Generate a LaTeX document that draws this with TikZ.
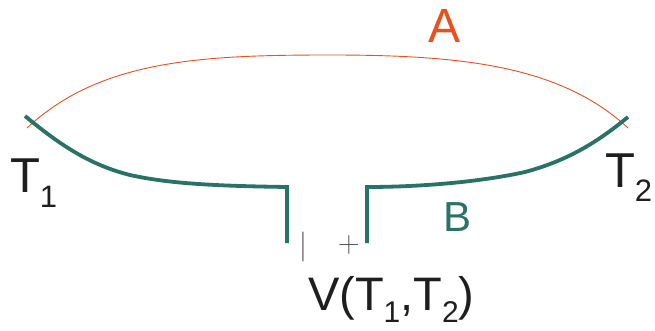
\documentclass[tikz,border=0pt]{standalone}
\usepackage{fontspec}
\setmainfont{Liberation Sans}
\newfontfamily\lmfont{Latin Modern Roman}
\definecolor{redA}{RGB}{238,78,28}
\definecolor{tealB}{RGB}{40,114,104}
\definecolor{txt}{RGB}{30,30,30}
\definecolor{mark}{RGB}{90,90,90}
\newcommand{\lowsub}[3]{\raisebox{-#2pt}{\fontsize{#1}{#1}\selectfont #3}}
\tikzset{
  wireA/.style={draw=redA, line width=0.9pt},
  wireB/.style={draw=tealB, line width=3.8pt, line join=miter},
  lbl/.style={inner sep=0pt, outer sep=0pt, text=txt},
  polmark/.style={inner sep=0pt, outer sep=0pt, text=mark, font=\lmfont\fontsize{30}{30}\selectfont},
}
\begin{document}
\begin{tikzpicture}[x=1pt,y=-1pt]
\useasboundingbox (0,0) rectangle (655,331);
% endpoints
\coordinate (aL) at (27,128);
\coordinate (aR) at (628,128);
\coordinate (bL) at (25,116);
\coordinate (bR) at (628,117);
\coordinate (cL) at (287,187);
\coordinate (cR) at (367,187);
\coordinate (tL) at (287,243);
\coordinate (tR) at (367,243);
% curve A
\draw[wireA] (aL) .. controls (100,60) and (200,55) .. (330,55)
  .. controls (460,55) and (560,65) .. (aR);
% curve B
\draw[wireB] (bL) .. controls (60,145) and (90,165) .. (130,175)
  .. controls (170,184) and (220,186) .. (cL) -- (tL);
\draw[wireB] (tR) -- (cR) .. controls (420,187) and (480,182) .. (525,172)
  .. controls (570,160) and (600,140) .. (bR);
% labels
\node[lbl, anchor=base west, text=redA, font=\fontsize{48}{48}\selectfont] (A) at (428,43) {A};
\node[lbl, anchor=base west, text=tealB, font=\fontsize{42}{42}\selectfont] (B) at (443,231) {B};
\node[lbl, anchor=base west, font=\fontsize{49}{49}\selectfont] (T1) at (10,193) {T\lowsub{31}{14}{1}};
\node[lbl, anchor=base west, font=\fontsize{49}{49}\selectfont] (T2) at (605,187) {T\lowsub{31}{14}{2}};
\node[lbl, anchor=base west, font=\fontsize{47}{47}\selectfont] (V) at (308,310) {V(T\lowsub{30}{12}{1},T\lowsub{30}{12}{2})};
\node[polmark] (minus) at (303,247) {|};
\node[polmark] (plus) at (349,245) {+};
\end{tikzpicture}
\end{document}
